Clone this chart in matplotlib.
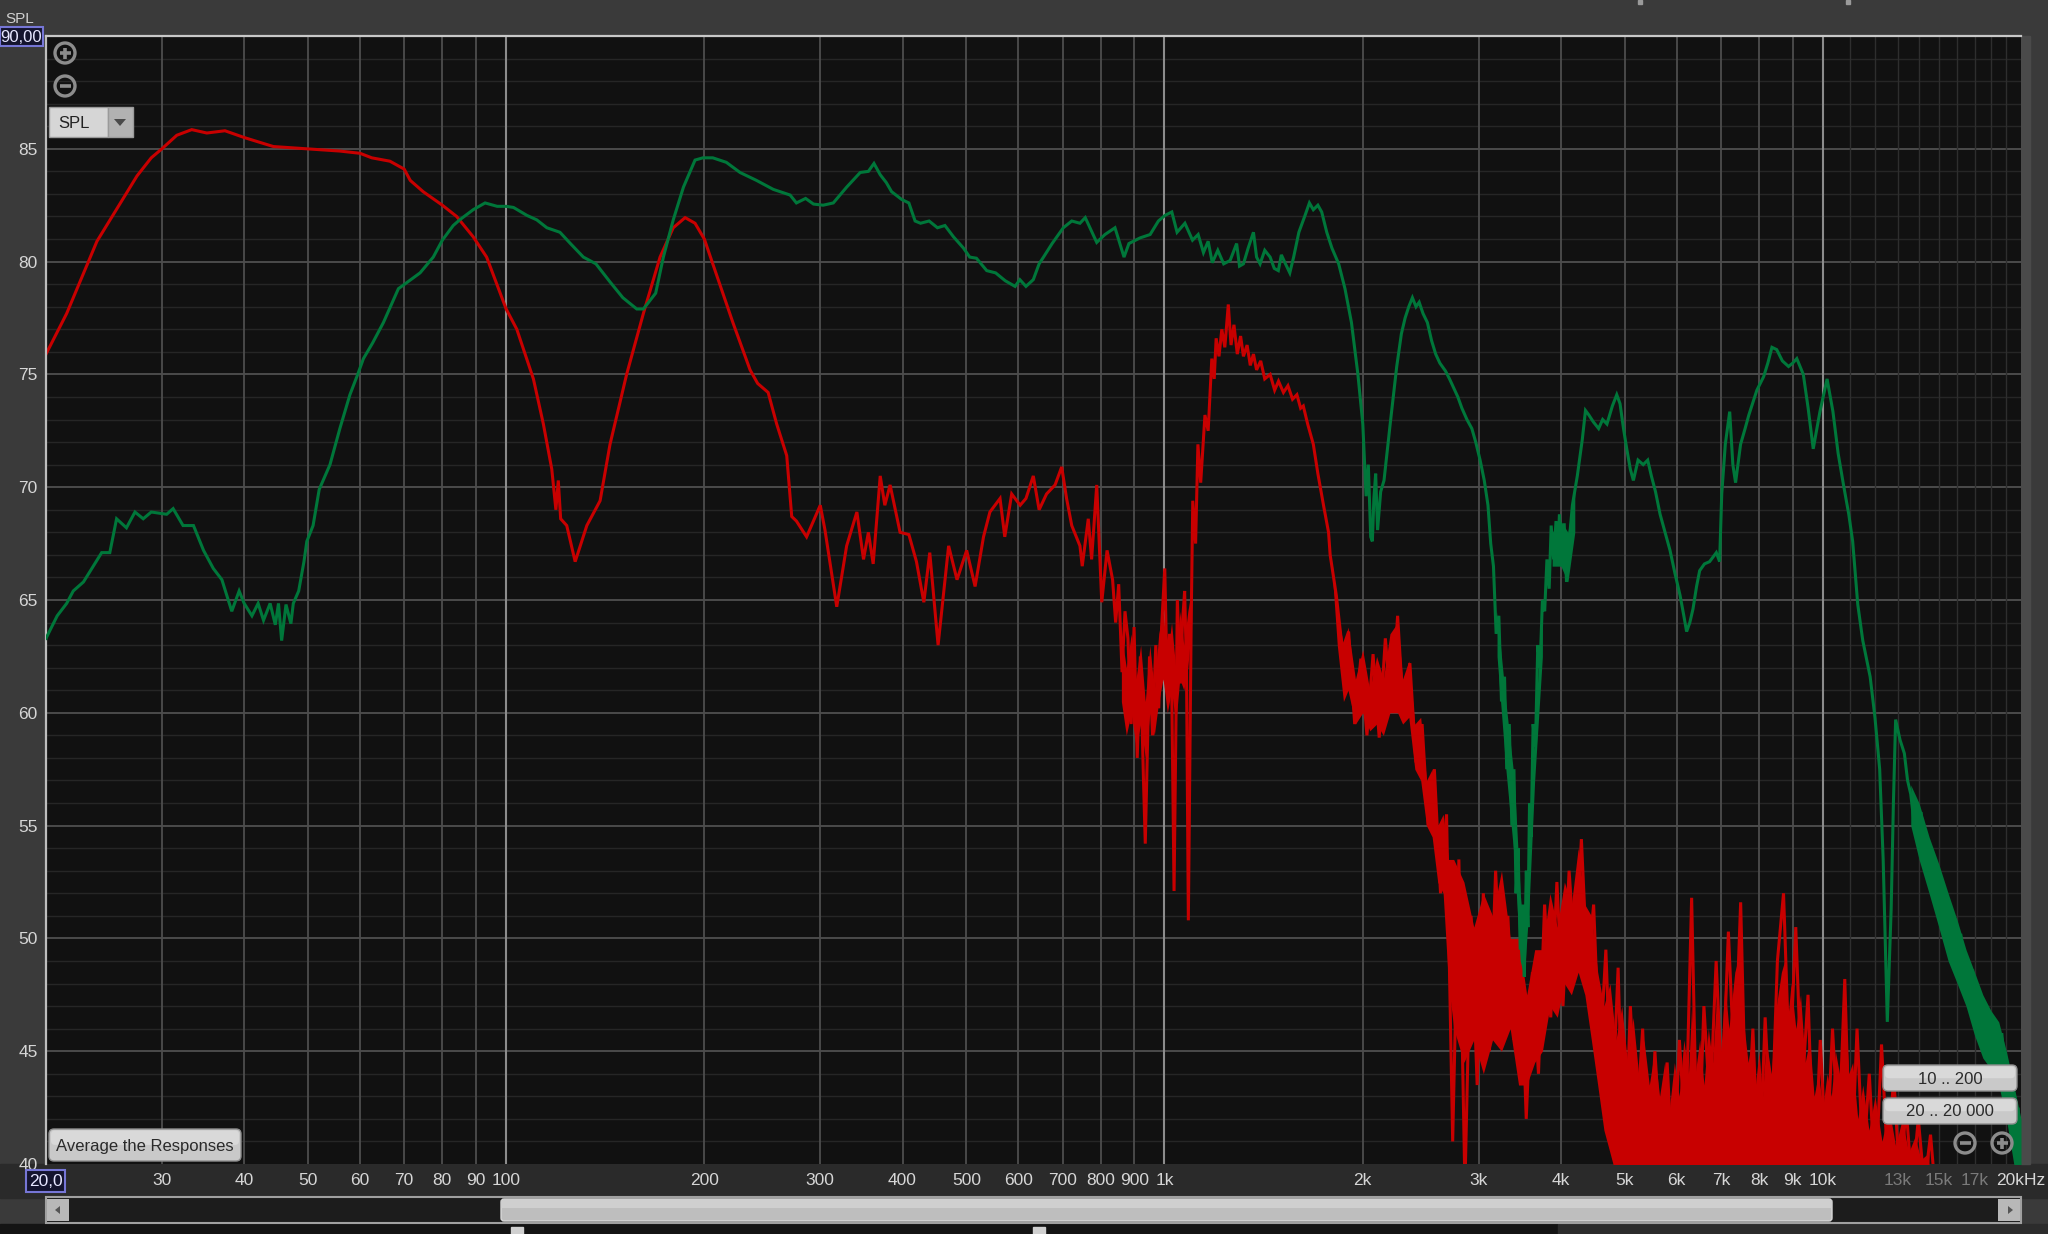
import matplotlib
matplotlib.use('Agg')
import matplotlib.pyplot as plt
from matplotlib.patches import FancyBboxPatch, Rectangle, Circle, Polygon

# ---------------- data ----------------
red_hz = [20, 21.5, 23.9, 27.5, 28.9, 30, 31.6, 33.3, 35.1, 37.4, 40, 44.3, 49.8, 55.9, 60, 62.5,
          66.6, 70, 71.5, 74.8, 80, 84.1, 89.1, 93.4, 100, 103.8, 110, 113.9, 117.3, 119, 120, 121,
          123.6, 127.3, 132.6, 138.9, 143.8, 152.4, 161.6, 171.3, 179.4, 187, 193.6, 200, 206, 221,
          234.7, 241, 250, 257.6, 266.8, 271.5, 276, 286, 300, 305, 317.8, 329, 341, 349, 355, 361,
          370, 376, 383, 396.6, 409, 420, 431, 440, 453, 470, 484, 500.6, 515.6, 531, 543, 562.6,
          572, 586, 603.6, 616, 632, 645, 662, 682, 698, 710, 723, 744, 750, 766, 775, 789, 803,
          818, 834, 843, 852, 862, 871, 880, 890, 899, 909, 919, 929, 935, 949, 959, 970, 980, 990,
          1001, 1010, 1018, 1026, 1034, 1046, 1057, 1065, 1073, 1080, 1087, 1098, 1104, 1115, 1124,
          1135, 1152, 1165, 1180, 1190, 1198, 1210, 1222, 1235, 1250, 1262, 1275, 1290, 1305, 1318,
          1335, 1350, 1365, 1380, 1400, 1420, 1447, 1470, 1490, 1516, 1540, 1565, 1589, 1610, 1625,
          1650, 1683, 1710, 1744, 1775,
          1785, 1824, 1863, 1904, 1945, 1987, 2030, 2074, 2119, 2165, 2212, 2260, 2309, 2359, 2410,
          2462, 2515, 2570, 2626, 2682, 2740, 2800, 2860, 2922, 2985, 3050, 3116, 3184, 3253, 3323,
          3395, 3469, 3544, 3621, 3699, 3779, 3861, 3945, 4030, 4117, 4206, 4298, 4391, 4486, 4583,
          4682, 4783, 4887, 4993, 5101, 5211, 5325, 5440, 5558, 5678, 5801, 5927, 6055, 6186, 6320,
          6457, 6597, 6740, 6886, 7035, 7187, 7343, 7502, 7664, 7830, 8000, 8173, 8350, 8531, 8716,
          8904, 9097, 9294, 9496, 9701, 9911, 10126, 10345, 10569, 10798, 11032, 11271, 11515,
          11764, 12019, 12279, 12545, 12817, 13094, 13378, 13668, 13964, 14266, 14575, 15000]
red_db = [75.9, 77.7, 80.9, 83.8, 84.6, 85.0, 85.6, 85.85, 85.7, 85.8, 85.5, 85.1, 85.0, 84.9, 84.8, 84.6,
          84.45, 84.1, 83.6, 83.1, 82.5, 82.0, 81.1, 80.2, 77.9, 77.0, 74.8, 72.8, 70.8, 69.0, 70.3, 68.6,
          68.3, 66.7, 68.3, 69.4, 71.9, 75.0, 77.7, 80.2, 81.5, 81.95, 81.7, 81.0, 79.9, 77.3,
          75.2, 74.6, 74.2, 72.8, 71.4, 68.7, 68.5, 67.8, 69.2, 68.1, 64.7, 67.4, 68.9, 66.8, 68.0, 66.6,
          70.5, 69.2, 70.1, 68.0, 67.9, 66.7, 64.9, 67.1, 63.0, 67.4, 65.9, 67.2, 65.6, 67.8, 68.9, 69.5,
          67.8, 69.7, 69.2, 69.5, 70.5, 69.0, 69.7, 70.1, 70.9, 69.5, 68.3, 67.4, 66.5, 68.6, 66.8, 70.1, 64.9,
          67.2, 65.9, 64.0, 65.7, 61.8, 64.5, 63.3, 59.5, 63.8, 58.0, 62.5, 57.1, 54.2, 62.5, 59.0, 63.0, 60.2, 63.8,
          66.4, 61.0, 63.5, 60.7, 52.1, 65.0, 61.3, 64.0, 65.4, 62.0, 50.8, 64.2, 69.4, 67.5, 71.9,
          70.2, 73.2, 72.5, 75.7, 74.8, 76.6, 75.8, 77.0, 76.2, 78.1, 76.3, 77.2, 75.9, 76.7, 75.8,
          76.3, 75.4, 75.9, 75.2, 75.6, 74.8, 75.0, 74.3, 74.7, 74.2, 74.5, 73.9, 74.1, 73.5, 73.6,
          72.8, 71.9, 70.6, 69.2, 68.0,
          67.0, 65.2, 62.8, 63.6, 59.5, 62.4, 59.0, 62.6, 58.9, 63.3, 60.0, 64.3, 59.8, 62.2, 57.8,
          59.5, 55.0, 57.5, 52.0, 55.5, 41.0, 53.5, 39.0, 51.0, 43.5, 52.0, 45.0, 53.0, 47.0, 51.0,
          45.5, 50.0, 42.0, 48.5, 44.0, 51.5, 46.5, 52.5, 47.0, 53.0, 49.0, 54.4, 48.5, 51.5, 44.5,
          49.5, 42.0, 48.7, 39.0, 47.0, 41.5, 46.0, 39.0, 45.0, 40.5, 44.5, 39.0, 45.5, 41.0, 51.8,
          39.0, 47.0, 42.5, 49.0, 43.0, 50.3, 44.0, 51.6, 40.5, 46.0, 39.0, 46.5, 41.0, 49.0, 52.0,
          44.0, 50.5, 43.0, 47.5, 39.0, 45.5, 40.0, 46.0, 41.0, 48.2, 39.0, 46.0, 40.0,
          44.0, 39.0, 45.3, 40.0, 43.9, 39.0, 42.5, 39.0, 42.0, 39.0, 41.3, 37.0]

# dense core of the noisy red response around 1 kHz (upper / lower edge of the solid part)
red_core_a_hz = [860, 875, 890, 905, 920, 935, 950, 965, 980, 995, 1010, 1025, 1040, 1055, 1070, 1085, 1100]
red_core_a_hi = [63.5, 62.0, 63.5, 61.5, 63.0, 60.5, 63.0, 61.0, 63.5, 64.5, 62.5, 64.0, 62.0, 64.5, 63.0, 64.5, 65.5]
red_core_a_lo = [60.5, 59.0, 60.0, 58.5, 59.5, 58.0, 60.0, 59.0, 60.5, 61.5, 60.0, 61.0, 59.5, 61.5, 61.0, 62.0, 64.0]

# dense core of the noisy red response above 1.8 kHz
red_core_b_hz = [1800, 1830, 1870, 1900, 1950, 2000, 2050, 2100, 2150, 2200, 2260, 2300, 2350, 2400, 2450,
                 2500, 2550, 2600, 2650, 2700, 2750, 2850, 2950, 3050, 3150, 3250, 3350, 3450, 3550, 3650,
                 3750, 3850, 3950, 4050, 4150, 4250, 4350, 4450, 4550, 4650, 4750, 4850, 4950, 5050, 5150,
                 5250, 5350, 5450, 5550, 5650, 5750, 5850, 5950, 6050, 6150, 6250, 6320, 6400, 6500, 6600,
                 6700, 6800, 6900, 7000, 7100, 7200, 7350, 7500, 7600, 7700, 7800, 7900, 8000, 8100, 8200,
                 8350, 8500, 8650, 8750, 8850, 8950, 9100, 9250, 9400, 9550, 9700, 9850, 10000, 10150, 10300,
                 10450, 10600, 10800, 10950, 11100, 11300, 11500, 11750, 12000, 12300, 12600, 12900, 13200,
                 13500, 13800, 14100, 14500]
red_core_b_hi = [66.5, 64.5, 63.0, 63.8, 61.5, 62.8, 61.0, 62.5, 61.5, 63.5, 64.0, 61.5, 62.3, 59.5, 59.8,
                 57.0, 57.5, 55.0, 55.5, 53.5, 53.5, 52.5, 50.5, 52.0, 51.0, 53.0, 50.0, 50.0, 47.5, 49.5,
                 49.5, 52.0, 50.5, 52.5, 51.5, 54.0, 51.5, 51.0, 48.5, 47.0, 48.0, 45.5, 47.0, 44.5, 46.5,
                 44.0, 45.5, 43.5, 45.0, 43.0, 44.5, 42.5, 44.5, 43.0, 45.5, 44.0, 47.0, 44.0, 45.5, 43.5,
                 46.0, 44.5, 47.5, 45.0, 48.0, 46.0, 48.5, 49.5, 46.0, 44.5, 45.5, 43.5, 45.0, 43.0, 45.5,
                 44.0, 47.0, 48.5, 49.0, 46.5, 48.0, 46.0, 47.5, 44.5, 45.5, 43.0, 44.0, 42.5, 44.0, 43.0,
                 45.0, 44.0, 47.0, 44.0, 44.5, 42.0, 43.5, 41.5, 43.0, 41.0, 42.5, 40.8, 42.0,
                 40.5, 41.2, 40.2, 40.5]
red_core_b_lo = [66.0, 63.0, 60.5, 61.0, 59.5, 60.0, 59.2, 59.5, 59.0, 60.0, 60.0, 59.5, 59.8, 57.5, 57.0,
                 55.0, 54.5, 52.5, 52.0, 48.0, 46.0, 44.5, 45.5, 44.0, 45.5, 45.0, 46.0, 43.5, 43.5, 44.5,
                 45.0, 47.0, 46.5, 48.0, 47.5, 48.5, 47.5, 45.5, 43.5, 41.5, 40.5, 39.5, 39.5, 39.5, 39.5,
                 39.5, 39.5, 39.5, 39.5, 39.5, 39.5, 39.5, 39.5, 39.5, 39.5, 39.5, 39.5, 39.5, 39.5, 39.5,
                 39.5, 39.5, 39.5, 39.5, 39.5, 39.5, 39.5, 39.5, 39.5, 39.5, 39.5, 39.5, 39.5, 39.5, 39.5,
                 39.5, 39.5, 39.5, 39.5, 39.5, 39.5, 39.5, 39.5, 39.5, 39.5, 39.5, 39.5, 39.5, 39.5, 39.5,
                 39.5, 39.5, 39.5, 39.5, 39.5, 39.5, 39.5, 39.5, 39.5, 39.5, 39.5, 39.5, 39.5,
                 39.5, 39.5, 39.5, 39.5]

green_hz = [20, 20.8, 21.5, 22.0, 22.8, 23.6, 24.3, 25.0, 25.6, 26.5, 27.3, 28.1, 28.9, 30.5, 31.2, 32.3,
            33.5, 34.7, 35.9, 37.0, 38.3, 39.3, 40.0, 41.1, 42.0, 42.8, 43.8, 44.6, 45.1, 45.6, 46.3,
            47.1, 47.5, 48.4, 49.3, 49.8, 50.9, 52.0, 54.0, 55.9, 57.9, 59.5, 60.7, 62.7, 65.1, 68.6,
            70.5, 74.0, 77.5, 80, 83.1, 85.0, 89.1, 92.9, 96.9, 100, 102.6, 107.5, 111.3, 115.3, 120.7,
            125.2, 131, 136.9, 143.8, 150.4, 157.9, 161.6, 168.7, 173.3, 179.4, 185.9, 193.6, 199, 206,
            216, 226.6, 240, 254.6, 270, 276, 285, 293, 303, 314, 329, 345, 355, 362, 370, 378, 385,
            399, 409, 418, 426, 439, 452, 464, 478, 495, 506, 518, 537, 554, 573, 593, 603, 616, 632,
            645, 655, 675, 702, 723, 744, 758, 789, 812, 841, 868, 883, 918, 951, 979, 1002, 1026,
            1045, 1074, 1103, 1125, 1146, 1165, 1182, 1205, 1230, 1258, 1287, 1300, 1318, 1340, 1365,
            1380, 1397, 1420, 1447, 1468, 1489, 1505, 1524, 1550, 1571, 1600, 1635, 1660, 1683, 1710,
            1733, 1764, 1796, 1839, 1880, 1923, 1967, 2001, 2024, 2040, 2057, 2069, 2080, 2093, 2107,
            2130, 2155, 2202, 2253, 2290, 2320, 2350, 2380, 2410, 2437, 2470, 2508, 2545, 2582, 2620,
            2672, 2710, 2750, 2790, 2830, 2880, 2930, 2970, 3016, 3060, 3100, 3130, 3160, 3190, 3220,
            3250, 3285, 3310, 3340, 3370, 3395, 3420, 3445, 3470, 3500, 3520, 3545, 3565, 3585, 3605,
            3630, 3660, 3690, 3720, 3750, 3780, 3810, 3840, 3867, 3900, 3933, 3960, 3980, 4010, 4047,
            4080, 4095, 4130, 4165, 4237, 4311, 4360, 4412, 4480, 4565, 4630, 4700, 4790, 4864, 4920,
            4980, 5037, 5100, 5155, 5240, 5335, 5420, 5490, 5570, 5660, 5760, 5860, 5960, 6070, 6150,
            6210, 6280, 6350, 6430, 6500, 6610, 6730, 6890, 6970, 7022, 7110, 7220, 7300, 7370, 7500,
            7620, 7720, 7940, 8130, 8250, 8370, 8510, 8680, 8870, 9000, 9130, 9340, 9500, 9670, 9900,
            10150, 10360, 10550, 10750, 10950, 11100, 11300, 11500, 11800, 12000, 12200, 12350, 12450,
            12530, 12620, 12700, 12800, 12900, 13100, 13300, 13450, 13600, 13800, 14100, 14300, 14500,
            14700, 15000, 15300, 15600, 15900, 16200, 16500, 16900, 17200, 17500, 17800, 18100, 18400,
            18700, 19000, 19200, 19500, 19800, 20000]
green_db = [63.3, 64.3, 64.85, 65.4, 65.8, 66.5, 67.1, 67.1, 68.6, 68.2, 68.9, 68.6, 68.9, 68.8, 69.05, 68.3,
            68.3, 67.2, 66.4, 65.9, 64.5, 65.4, 64.85, 64.3, 64.85, 64.1, 64.85, 63.9, 64.85, 63.2, 64.8,
            63.95, 64.85, 65.4, 66.7, 67.6, 68.3, 69.9, 71.0, 72.6, 74.1, 75.0, 75.7, 76.4, 77.3, 78.8,
            79.05, 79.5, 80.2, 80.95, 81.6, 81.85, 82.3, 82.6, 82.45, 82.45, 82.4, 82.05, 81.85, 81.5, 81.3,
            80.8, 80.2, 79.9, 79.1, 78.4, 77.9, 77.9, 78.6, 80.2, 81.85, 83.3, 84.5, 84.6, 84.6,
            84.4, 83.95, 83.6, 83.2, 82.95, 82.6, 82.8, 82.55, 82.5, 82.6, 83.3, 83.95, 84.0, 84.35, 83.85, 83.5, 83.1,
            82.75, 82.6, 81.8, 81.7, 81.8, 81.5, 81.6, 81.1, 80.6, 80.2, 80.15, 79.6, 79.5, 79.15, 78.9, 79.2, 78.9, 79.2,
            79.9, 80.2, 80.8, 81.5, 81.8, 81.7, 81.95, 80.85, 81.2, 81.5, 80.2, 80.8, 81.05, 81.2, 81.8, 82.05, 82.2,
            81.3, 81.7, 80.95, 81.2, 80.4, 80.9, 79.95, 80.5, 79.9, 80.05, 80.8, 79.8, 79.9, 80.6, 81.3,
            80.2, 79.9, 80.5, 80.2, 79.7, 79.6, 80.3, 79.95, 79.5, 80.2, 81.3, 82.05, 82.6, 82.3, 82.5,
            82.2, 81.3, 80.6, 79.9, 78.8, 77.3, 75.0, 72.8, 69.6, 71.0, 67.8, 67.6, 69.5, 70.6, 68.1,
            69.8, 70.3, 72.8, 75.35, 76.8, 77.5, 78.0, 78.4, 78.0, 78.2, 77.7, 77.3, 76.5, 75.9, 75.5,
            75.15, 74.8, 74.4, 74.0, 73.5, 73.0, 72.6, 72.0, 71.2, 70.3, 69.2, 67.5, 66.5, 63.5, 64.3,
            60.5, 61.6, 57.5, 59.5, 55.0, 57.5, 52.0, 54.0, 49.5, 51.5, 48.3, 53.0, 50.5, 56.0, 54.5,
            59.5, 58.5, 63.0, 62.0, 65.0, 64.5, 66.8, 65.5, 68.3, 66.8, 68.5, 67.0, 68.8, 66.5, 68.4,
            65.8, 66.5, 68.0, 69.2, 70.5, 72.1, 73.4, 73.2, 72.9, 72.6, 73.0, 72.8, 73.6, 74.1, 73.7,
            72.6, 71.7, 70.8, 70.3, 71.2, 71.0, 71.2, 70.5, 69.8, 68.8, 68.0, 67.2, 66.2, 65.2, 64.3,
            63.6, 64.0, 64.6, 65.6, 66.3, 66.6, 66.7, 67.1, 66.7, 69.7, 71.9, 73.35, 71.0, 70.2, 71.9,
            72.6, 73.2, 74.3, 74.9, 75.5, 76.2, 76.1, 75.6, 75.35, 75.5, 75.7, 75.0, 73.5, 71.7, 73.35,
            74.8, 73.35, 71.5, 70.1, 68.8, 67.6, 64.8, 63.2, 61.6, 59.8, 57.5, 53.5, 49.5,
            46.3, 49.0, 51.3, 56.0, 59.7, 58.8, 58.2, 57.0, 56.4, 54.8, 55.6, 53.6, 54.0,
            52.4, 52.6, 50.6, 51.2, 49.4, 50.2, 48.2, 48.5, 46.3, 47.0, 45.3, 46.3, 44.6,
            45.8, 43.5, 44.2, 41.5, 42.5, 40.0]

# dense core of the noisy green response
green_core_hz = [3200, 3300, 3400, 3470, 3520, 3580, 3650, 3750,
                 3880, 4000, 4100, 4200,
                 13600, 14000, 14500, 15000, 15500, 16000, 16500, 17000, 17500, 18000, 18500,
                 19000, 19500, 20000]
green_core_hi = [64.5, 60.5, 57.0, 52.0, 50.0, 54.0, 59.5, 64.5,
                 68.0, 68.5, 68.0, 70.0,
                 56.8, 56.0, 54.5, 53.3, 52.0, 50.8, 49.5, 48.5, 47.5, 46.8, 46.3,
                 45.0, 43.5, 42.0]
green_core_lo = [62.5, 57.5, 53.5, 49.0, 48.3, 51.5, 57.0, 62.5,
                 66.5, 66.5, 65.8, 68.0,
                 55.0, 53.5, 52.0, 50.5, 49.0, 48.0, 47.0, 45.7, 44.7, 44.2, 43.5,
                 42.0, 40.0, 39.0]

x_ticks = [30, 40, 50, 60, 70, 80, 90, 100, 200, 300, 400, 500, 600, 700, 800, 900,
           1000, 2000, 3000, 4000, 5000, 6000, 7000, 8000, 9000, 10000, 13000, 15000, 17000, 20000]
x_labels = ['30', '40', '50', '60', '70', '80', '90', '100', '200', '300', '400', '500', '600', '700',
            '800', '900', '1k', '2k', '3k', '4k', '5k', '6k', '7k', '8k', '9k', '10k', '13k', '15k', '17k', '20kHz']
y_ticks = [40, 45, 50, 55, 60, 65, 70, 75, 80, 85]
y_labels = ['40', '45', '50', '55', '60', '65', '70', '75', '80', '85']

grid_normal = [30, 40, 50, 60, 70, 80, 90, 200, 300, 400, 500, 600, 700, 800, 900,
               2000, 3000, 4000, 5000, 6000, 7000, 8000, 9000]
grid_decade = [100, 1000, 10000]
grid_fine = [11000, 12000, 13000, 14000, 15000, 16000, 17000, 18000, 19000]

RED = '#c80000'
GREEN = '#00773a'

# ---------------- figure ----------------
W, H = 2048, 1234
FONT = ['Liberation Sans Narrow', 'Liberation Sans', 'DejaVu Sans']
plt.rcParams['font.family'] = FONT

fig = plt.figure(figsize=(W / 100, H / 100), dpi=100, facecolor='#3a3a3a')

bg = fig.add_axes([0, 0, 1, 1], zorder=0)
bg.set_xlim(0, W); bg.set_ylim(H, 0); bg.axis('off')
bg.add_patch(Rectangle((0, 1164), W, 34, color='#2a2a2a'))
bg.add_patch(Rectangle((0, 1224), 1558, 10, color='#141414'))
bg.add_patch(Rectangle((1558, 1224), W - 1558, 10, color='#2c2c2c'))
bg.add_patch(Rectangle((2021, 36), 9, 1128, color='#4a4a4a'))
bg.add_patch(Rectangle((1638, 0), 4, 4, color='#9a9a9a'))
bg.add_patch(Rectangle((1846, 0), 4, 4, color='#9a9a9a'))
bg.add_patch(Rectangle((511, 1227), 12, 7, color='#d0d0d0'))
bg.add_patch(Rectangle((1033, 1227), 12, 7, color='#d0d0d0'))

ax = fig.add_axes([46 / W, (H - 1164) / H, 1975 / W, 1128 / H], zorder=1)
ax.set_facecolor('#111111')
ax.set_xscale('log')
ax.set_xlim(20, 20000)
ax.set_ylim(40, 90)

for d in range(41, 90):
    if d % 5:
        ax.axhline(d, color='#262626', lw=1.0, zorder=0.5)
for d in range(45, 90, 5):
    ax.axhline(d, color='#505050', lw=1.3, zorder=0.6)
for f in grid_fine:
    ax.axvline(f, color='#2e2e2e', lw=1.0, zorder=0.6)
for f in grid_normal:
    ax.axvline(f, color='#4d4d4d', lw=1.3, zorder=0.7)
for f in grid_decade:
    ax.axvline(f, color='#8c8c8c', lw=1.5, zorder=0.8)

ax.fill_between(red_core_a_hz, red_core_a_lo, red_core_a_hi, color=RED, lw=0, zorder=2)
ax.fill_between(red_core_b_hz, red_core_b_lo, red_core_b_hi, color=RED, lw=0, zorder=2)
ax.plot(red_hz, red_db, color=RED, lw=2.2, zorder=2, solid_joinstyle='miter')

g1, g2 = 8, 12
for a, b in ((0, g1), (g1, g2), (g2, len(green_core_hz))):
    ax.fill_between(green_core_hz[a:b], green_core_lo[a:b], green_core_hi[a:b], color=GREEN, lw=0, zorder=3)
ax.plot(green_hz, green_db, color=GREEN, lw=2.2, zorder=3, solid_joinstyle='miter')

ax.set_xticks(x_ticks)
ax.set_xticklabels(x_labels)
ax.minorticks_off()
ax.set_yticks(y_ticks)
ax.set_yticklabels(y_labels)
ax.tick_params(axis='x', length=0, pad=6.5, labelsize=12.5, labelcolor='#d6d6d6')
ax.tick_params(axis='y', length=0, pad=6, labelsize=12.5, labelcolor='#d6d6d6')
for lab in ax.get_xticklabels():
    if lab.get_text() in ('13k', '15k', '17k'):
        lab.set_color('#7a7a7a')

for side in ('right', 'bottom'):
    ax.spines[side].set_visible(False)
ax.spines['top'].set_color('#c8c8c8'); ax.spines['top'].set_linewidth(1.6)
ax.spines['left'].set_color('#bdbdbd'); ax.spines['left'].set_linewidth(1.6)

# ---------------- overlay widgets ----------------
ov = fig.add_axes([0, 0, 1, 1], zorder=5)
ov.set_xlim(0, W); ov.set_ylim(H, 0); ov.axis('off')


def zoom_icon(x, y, plus):
    ov.add_patch(Circle((x, y), 10, fill=False, ec='#8c8c8c', lw=2.4))
    ov.plot([x - 5.5, x + 5.5], [y, y], color='#8c8c8c', lw=2.6, solid_capstyle='butt')
    if plus:
        ov.plot([x, x], [y - 5.5, y + 5.5], color='#8c8c8c', lw=2.6, solid_capstyle='butt')


def button(x, y, w, h, text):
    ov.add_patch(FancyBboxPatch((x, y), w, h, boxstyle='round,pad=0,rounding_size=5',
                                fc='#c9c9c9', ec='#8e8e8e', lw=1.0))
    ov.add_patch(FancyBboxPatch((x + 2, y + 1.5), w - 4, h * 0.45, boxstyle='round,pad=0,rounding_size=4',
                                fc='#d9d9d9', ec='none'))
    ov.text(x + w / 2, y + h / 2 + 1, text, ha='center', va='center', fontsize=12, color='#2b2b2b')


zoom_icon(65, 53, True)
zoom_icon(65, 86, False)
zoom_icon(1965, 1143, False)
zoom_icon(2002, 1143, True)

# SPL dropdown
ov.add_patch(Rectangle((49, 107), 59, 30, fc='#d6d6d6', ec='#9a9a9a', lw=1.0))
ov.add_patch(Rectangle((108, 107), 25, 30, fc='#b2b2b2', ec='#9a9a9a', lw=1.0))
ov.add_patch(Polygon([[114, 119], [126, 119], [120, 126]], closed=True, fc='#4a4a4a', ec='none'))
ov.text(58, 123, 'SPL', ha='left', va='center', fontsize=12, color='#222222')

button(49, 1129, 192, 32, 'Average the Responses')
button(1883, 1065, 134, 26, '10 .. 200')
button(1883, 1098, 134, 26, '20 .. 20 000')

# axis value boxes and labels
ov.text(20, 19, 'SPL', ha='center', va='center', fontsize=11, color='#cfcfcf')
ov.add_patch(Rectangle((0, 27), 43, 19, fc='#14142e', ec='#7676d6', lw=1.5))
ov.text(21.5, 37, '90,00', ha='center', va='center', fontsize=12, color='#e6e6ff')
ov.add_patch(Rectangle((26, 1170), 39, 22, fc='#14142e', ec='#7676d6', lw=1.5))
ov.text(45.5, 1181.5, '20,0', ha='center', va='center', fontsize=12.5, color='#e6e6ff')

# scrollbar
ov.add_patch(Rectangle((46, 1197), 1975, 26, fc='#1c1c1c', ec='#a0a0a0', lw=1.5))
ov.add_patch(FancyBboxPatch((501, 1199), 1331, 22, boxstyle='round,pad=0,rounding_size=3',
                            fc='#bebebe', ec='#d8d8d8', lw=1.0))
ov.add_patch(Rectangle((501, 1200), 1331, 8, fc='#cfcfcf', ec='none'))
ov.add_patch(Rectangle((47, 1199), 22, 22, fc='#b8b8b8', ec='none'))
ov.add_patch(Polygon([[55, 1210], [60, 1206], [60, 1214]], closed=True, fc='#555555', ec='none'))
ov.add_patch(Rectangle((1998, 1199), 22, 22, fc='#b8b8b8', ec='none'))
ov.add_patch(Polygon([[2013, 1210], [2008, 1206], [2008, 1214]], closed=True, fc='#555555', ec='none'))

fig.savefig('out.png', dpi=100, facecolor=fig.get_facecolor())
